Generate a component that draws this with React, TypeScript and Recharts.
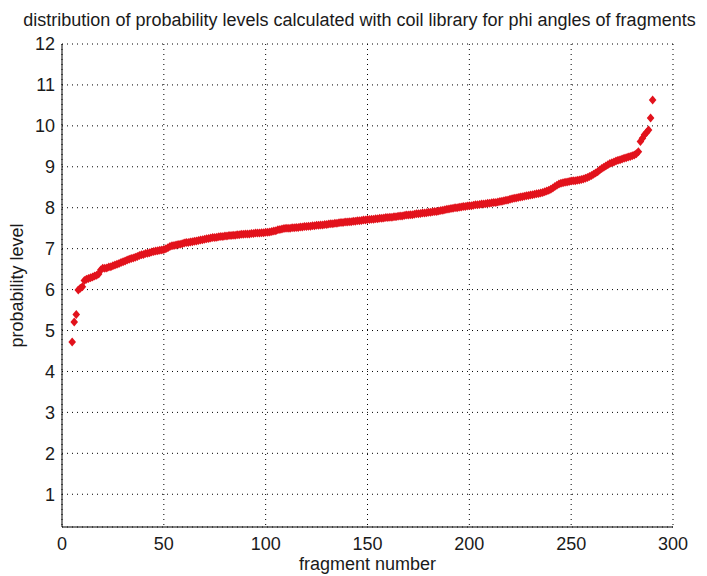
import { ScatterChart, Scatter, XAxis, YAxis, CartesianGrid, Label } from "recharts";

const title =
  "distribution of probability levels calculated with coil library for phi angles of fragments";
const xTitle = "fragment number";
const yTitle = "probability level";

const xTicks = [0, 50, 100, 150, 200, 250, 300];
const yTicks = [1, 2, 3, 4, 5, 6, 7, 8, 9, 10, 11, 12];

// fragments are numbered from 5 on in the picture
const firstFragment = 5;

// sorted probability levels (fragments 5..290)
const levels = [
  4.72, 5.21, 5.39, 5.99, 6.03, 6.07, 6.22, 6.25, 6.27, 6.29, 6.31, 6.33, 6.35, 6.38, 6.48, 6.52,
  6.52, 6.53, 6.55, 6.56, 6.58, 6.6, 6.62, 6.64, 6.66, 6.68,
  6.7, 6.72, 6.74, 6.76, 6.77, 6.79, 6.81, 6.83, 6.85, 6.86,
  6.88, 6.89, 6.9, 6.92, 6.93, 6.94, 6.95, 6.96, 6.97, 6.98,
  7.0, 7.02, 7.05, 7.07, 7.08, 7.09, 7.1, 7.11, 7.12, 7.14,
  7.15, 7.15, 7.16, 7.17, 7.18, 7.19, 7.2, 7.21, 7.22, 7.23,
  7.24, 7.25, 7.26, 7.27, 7.27, 7.28, 7.29, 7.3, 7.3, 7.31,
  7.31, 7.32, 7.32, 7.33, 7.33, 7.34, 7.34, 7.35, 7.35, 7.36,
  7.36, 7.36, 7.37, 7.37, 7.38, 7.38, 7.38, 7.39, 7.39, 7.4,
  7.4, 7.41, 7.42, 7.43, 7.44, 7.46, 7.47, 7.48, 7.49, 7.5,
  7.5, 7.5, 7.51, 7.51, 7.52, 7.52, 7.53, 7.53, 7.54, 7.54,
  7.55, 7.55, 7.56, 7.56, 7.57, 7.57, 7.58, 7.58, 7.59, 7.59,
  7.6, 7.61, 7.61, 7.62, 7.62, 7.63, 7.64, 7.64, 7.65, 7.65,
  7.66, 7.66, 7.67, 7.67, 7.68, 7.68, 7.69, 7.7, 7.7, 7.71,
  7.71, 7.72, 7.72, 7.73, 7.73, 7.74, 7.74, 7.75, 7.76, 7.76,
  7.77, 7.77, 7.78, 7.78, 7.79, 7.8, 7.8, 7.81, 7.82, 7.82,
  7.83, 7.83, 7.84, 7.85, 7.85, 7.86, 7.87, 7.87, 7.88, 7.89,
  7.89, 7.9, 7.91, 7.91, 7.92, 7.93, 7.94, 7.95, 7.96, 7.97,
  7.98, 7.99, 8.0, 8.0, 8.01, 8.02, 8.03, 8.03, 8.04, 8.05,
  8.05, 8.06, 8.07, 8.07, 8.08, 8.09, 8.09, 8.1, 8.11, 8.11,
  8.12, 8.13, 8.13, 8.14, 8.15, 8.16, 8.17, 8.18, 8.19, 8.21,
  8.22, 8.23, 8.24, 8.25, 8.26, 8.27, 8.28, 8.29, 8.3, 8.31,
  8.32, 8.33, 8.34, 8.35, 8.36, 8.37, 8.39, 8.41, 8.43, 8.45,
  8.48, 8.52, 8.55, 8.58, 8.6, 8.61, 8.62, 8.63, 8.64, 8.65,
  8.66, 8.66, 8.67, 8.68, 8.69, 8.7, 8.72, 8.74, 8.76, 8.79,
  8.82, 8.85, 8.88, 8.92, 8.96, 8.99, 9.02, 9.05, 9.08, 9.1,
  9.12, 9.14, 9.16, 9.17, 9.19, 9.21, 9.22, 9.24, 9.25, 9.27,
  9.29, 9.32, 9.37, 9.62, 9.7, 9.78, 9.84, 9.9, 10.19, 10.63,
];

const data = levels.map((level, i) => ({ fragment: firstFragment + i, level }));

const font = "'Liberation Sans', Arial, sans-serif";
const red = "#e2121c";
const ink = "#1a1a1a";

function Diamond(props: any) {
  const { cx, cy } = props;
  if (cx == null || cy == null) return null;
  return (
    <path
      d={`M${cx},${cy - 4.5}L${cx + 3.8},${cy}L${cx},${cy + 4.5}L${cx - 3.8},${cy}Z`}
      fill={red}
    />
  );
}

export default function App() {
  const tickStyle = { fontSize: 18, fill: ink, fontFamily: font };
  return (
    <div style={{ position: "absolute", left: 0, top: 0, width: 707, height: 576, background: "#fff" }}>
      <div
        style={{
          position: "absolute",
          left: 6,
          top: 10,
          width: 707,
          textAlign: "center",
          fontFamily: font,
          fontSize: 18,
          color: ink,
          whiteSpace: "nowrap",
        }}
      >
        {title}
      </div>
      <ScatterChart width={707} height={576} margin={{ top: 44, right: 34, bottom: 19, left: 32 }}>
        <CartesianGrid stroke="#000" strokeDasharray="1 4" />
        {/* inward tick marks on all four sides, like the box of the original */}
        <XAxis xAxisId="bt" type="number" dataKey="fragment" domain={[0, 300]} ticks={xTicks} height={0}
          mirror tick={false} tickSize={5} stroke="#000" />
        <XAxis xAxisId="top" orientation="top" type="number" dataKey="fragment" domain={[0, 300]} ticks={xTicks}
          height={0} mirror tick={false} tickSize={5} stroke="#000" />
        <YAxis yAxisId="lt" type="number" dataKey="level" domain={[0.2, 12]} ticks={yTicks} width={0}
          mirror tick={false} tickSize={5} stroke="#000" />
        <YAxis yAxisId="rt" orientation="right" type="number" dataKey="level" domain={[0.2, 12]} ticks={yTicks}
          width={0} mirror tick={false} tickSize={5} stroke="#000" />
        <XAxis
          type="number"
          dataKey="fragment"
          domain={[0, 300]}
          ticks={xTicks}
          height={30}
          tickLine={false}
          tickSize={0}
          tickMargin={10}
          stroke="#000"
          tick={tickStyle}
        >
          <Label value={xTitle} position="bottom" offset={0}
            style={{ fontSize: 18, fill: ink, fontFamily: font }} />
        </XAxis>
        <YAxis
          type="number"
          dataKey="level"
          domain={[0.2, 12]}
          ticks={yTicks}
          width={30}
          tickLine={false}
          tickSize={0}
          tickMargin={7}
          stroke="#000"
          tick={tickStyle}
          allowDataOverflow
        >
          <Label value={yTitle} angle={-90} position="insideLeft" offset={-15}
            style={{ fontSize: 18, fill: ink, fontFamily: font, textAnchor: "middle" }} />
        </YAxis>
        <Scatter data={data} shape={<Diamond />} isAnimationActive={false} />
      </ScatterChart>
    </div>
  );
}
